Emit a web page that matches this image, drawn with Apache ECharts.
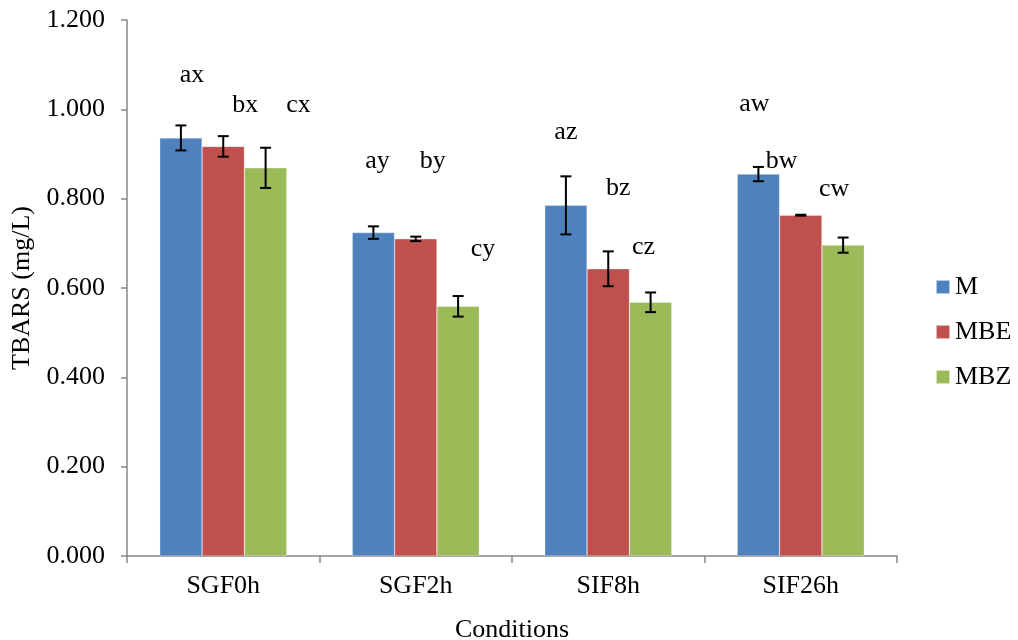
<!DOCTYPE html>
<html>
<head>
<meta charset="utf-8">
<script src="https://cdn.jsdelivr.net/npm/echarts@6/dist/echarts.min.js"></script>
<style>html,body{margin:0;padding:0;background:#fff}#c{width:1018px;height:640px}</style>
</head>
<body>
<div id="c"></div>
<script>
const categories = ['SGF0h', 'SGF2h', 'SIF8h', 'SIF26h'];
const seriesNames = ['M', 'MBE', 'MBZ'];
const valM   = [0.936, 0.724, 0.785, 0.855];
const valMBE = [0.917, 0.710, 0.643, 0.763];
const valMBZ = [0.869, 0.559, 0.568, 0.696];
const errM   = [0.028, 0.014, 0.065, 0.016];
const errMBE = [0.023, 0.005, 0.039, 0.001];
const errMBZ = [0.045, 0.023, 0.022, 0.017];
const letM   = ['ax', 'ay', 'az', 'aw'];
const letMBE = ['bx', 'by', 'bz', 'bw'];
const letMBZ = ['cx', 'cy', 'cz', 'cw'];
const letLevelM   = [1.077, 0.885, 0.948, 1.012];
const letLevelMBE = [1.010, 0.885, 0.824, 0.884];
const letLevelMBZ = [1.010, 0.687, 0.692, 0.821];
const yTicks = [0, 0.2, 0.4, 0.6, 0.8, 1.0, 1.2];

const values = [valM, valMBE, valMBZ];
const errs = [errM, errMBE, errMBZ];
const lets = [letM, letMBE, letMBZ];
const levels = [letLevelM, letLevelMBE, letLevelMBZ];
const colors = ['#4F81BD', '#C0504D', '#9BBB59'];
const GAP = 0.34;
// horizontal nudges (px) of letter labels relative to bar centre
const labelShift = [[11, 22, 33], [4, 17, 25], [0, 10, -7], [-4, -19, -9]];
const FONT = '"Liberation Serif", "Times New Roman", serif';
const FS = 26;

function barCenter(api, cat, idx) {
  const band = api.size([1, 0])[0];
  const bw = band * (1 - GAP) / 3;
  const c = api.coord([cat, 0])[0];
  return c + (idx - 1) * bw;
}

const series = [];
seriesNames.forEach((n, i) => {
  series.push({
    name: n, type: 'bar', data: values[i], barGap: '0%', barCategoryGap: (GAP * 100) + '%',
    itemStyle: { color: colors[i], borderColor: 'rgba(255,255,255,0.6)', borderWidth: 0.5 },
    z: 2
  });
});
seriesNames.forEach((n, i) => {
  series.push({
    type: 'custom', silent: true, z: 5,
    data: categories.map((c, k) => [k, values[i][k], errs[i][k]]),
    encode: { x: 0, y: 1 },
    renderItem: function (params, api) {
      const k = api.value(0);
      const x = barCenter(api, k, i);
      const v = api.value(1), e = api.value(2);
      const yt = api.coord([k, v + e])[1];
      const yb = api.coord([k, v - e])[1];
      const w = 5.5;
      const st = { stroke: '#000', lineWidth: 2 };
      return { type: 'group', children: [
        { type: 'line', shape: { x1: x, y1: yt, x2: x, y2: yb }, style: st },
        { type: 'line', shape: { x1: x - w, y1: yt, x2: x + w, y2: yt }, style: st },
        { type: 'line', shape: { x1: x - w, y1: yb, x2: x + w, y2: yb }, style: st }
      ]};
    }
  });
  series.push({
    type: 'custom', silent: true, z: 6,
    data: categories.map((c, k) => [k, levels[i][k], lets[i][k]]),
    encode: { x: 0, y: 1 },
    renderItem: function (params, api) {
      const k = api.value(0);
      const x = barCenter(api, k, i) + labelShift[k][i];
      const y = api.coord([k, api.value(1)])[1];
      return { type: 'text', style: { x: x, y: y, text: lets[i][k], font: FS + 'px ' + FONT,
        fill: '#000', align: 'center', verticalAlign: 'middle' } };
    }
  });
});

const chart = echarts.init(document.getElementById('c'), null, { renderer: 'canvas' });
chart.setOption({
  animation: false,
  backgroundColor: '#fff',
  textStyle: { fontFamily: FONT },
  grid: { left: 127, right: 121, top: 20, bottom: 84, containLabel: false, outerBoundsMode: 'none' },
  legend: {
    data: seriesNames, orient: 'vertical', left: 930, top: 269,
    itemWidth: 14, itemHeight: 14, itemGap: 19, icon: 'rect',
    textStyle: { fontFamily: FONT, fontSize: FS, color: '#000' }
  },
  xAxis: {
    type: 'category', data: categories,
    name: 'Conditions', nameLocation: 'middle', nameGap: 61,
    nameTextStyle: { fontFamily: FONT, fontSize: FS, color: '#000' },
    axisLine: { lineStyle: { color: '#868686', width: 1.5 } },
    axisTick: { show: true, length: 7, alignWithLabel: false, lineStyle: { color: '#868686', width: 1.5 } },
    axisLabel: { fontFamily: FONT, fontSize: FS, color: '#000', margin: 17 },
    splitLine: { show: false }
  },
  yAxis: {
    type: 'value', min: 0, max: 1.2, interval: 0.2,
    name: 'TBARS (mg/L)', nameLocation: 'middle', nameGap: 92, nameRotate: 90,
    nameTextStyle: { fontFamily: FONT, fontSize: FS, color: '#000' },
    axisLine: { show: true, lineStyle: { color: '#868686', width: 1.5 } },
    axisTick: { show: true, length: 6, lineStyle: { color: '#868686', width: 1.5 } },
    axisLabel: { fontFamily: FONT, fontSize: FS, color: '#000', margin: 22,
      formatter: v => yTicks.indexOf(Math.round(v * 10) / 10) >= 0 ? v.toFixed(3) : '' },
    splitLine: { show: false }
  },
  series: series
});
</script>
</body>
</html>
